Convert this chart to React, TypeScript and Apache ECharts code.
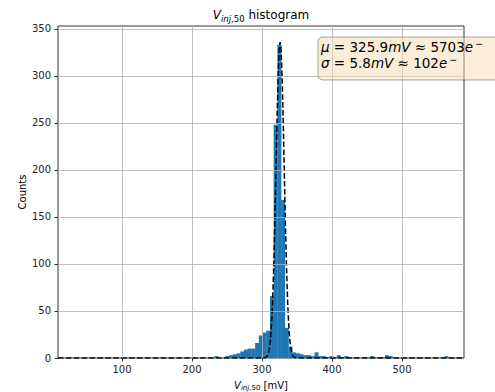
import React, { useEffect, useRef } from "react";
import * as echarts from "echarts";

// Histogram bins
const BIN_START = 35.8;
const BIN_WIDTH = 5.3;
const COUNTS = [
  0, 0, 0, 0, 0, 0, 0, 0, 0, 0,
  0, 0, 0, 0, 0, 0, 0, 0, 0, 0,
  0, 0, 0, 0, 0, 0, 0, 0, 0, 0,
  0, 0, 0, 0, 0, 0, 0, 2, 0, 0,
  2, 3, 4, 5, 7, 9, 10, 10, 16, 24,
  27, 29, 66, 248, 333, 168, 32, 12, 6, 5,
  4, 3, 3, 2, 6, 2, 2, 1, 2, 1,
  3, 1, 2, 1, 0, 1, 0, 1, 0, 2,
  0, 1, 1, 3, 2, 0, 0, 0, 0, 0,
  0, 0, 0, 0, 0, 0, 0, 0, 0, 2,
];

// Gaussian fit curve points
const FIT_X = [
  8.6, 300.9, 303.9, 305.9, 307.9, 308.9, 309.9, 310.9, 311.9, 312.9, 313.9,
  314.9, 315.9, 316.9, 317.9, 318.9, 319.9, 320.9, 321.9, 322.9, 323.9, 324.9,
  325.9, 326.9, 327.9, 328.9, 329.9, 330.9, 331.9, 332.9, 333.9, 334.9, 335.9,
  336.9, 337.9, 338.9, 339.9, 340.9, 341.9, 342.9, 343.9, 345.9, 347.9, 350.9,
  588.6,
];
const FIT_Y = [
  0, 0.03, 0.25, 0.9, 2.7, 4.6, 7.5, 11.9, 18.2, 27.2, 39.5,
  55.6, 76.0, 100.8, 129.8, 162.2, 196.8, 231.7, 264.9, 293.9, 316.6, 331.1,
  336, 331.1, 316.6, 293.9, 264.9, 231.7, 196.8, 162.2, 129.8, 100.8, 76.0,
  55.6, 39.5, 27.2, 18.2, 11.9, 7.5, 4.6, 2.7, 0.9, 0.25, 0.03,
  0,
];

const X_TICKS = [100, 200, 300, 400, 500];
const Y_TICKS = [0, 50, 100, 150, 200, 250, 300, 350];
const X_MIN = 8.6;
const X_MAX = 588.6;
const Y_MAX = 353;

const FONT = "DejaVu Sans";

export default function App() {
  const ref = useRef<HTMLDivElement>(null);

  useEffect(() => {
    if (!ref.current) return;
    const chart = echarts.init(ref.current, undefined, { renderer: "svg" });

    const barData = COUNTS.map((c, k) => [
      BIN_START + k * BIN_WIDTH,
      BIN_START + (k + 1) * BIN_WIDTH,
      c,
    ]).filter((d) => d[2] > 0);

    const fitData = FIT_X.map((x, i) => [x, FIT_Y[i]]);

    const gridLines = [
      ...X_TICKS.map((v) => ({ xAxis: v })),
      ...Y_TICKS.filter((v) => v > 0).map((v) => ({ yAxis: v })),
    ];

    const main = { fontFamily: FONT, fontSize: 13.5, lineHeight: 16, color: "#000" };
    const mainI = { ...main, fontStyle: "italic" };
    const sup = {
      fontFamily: FONT,
      fontSize: 9.5,
      lineHeight: 10,
      color: "#000",
      padding: [0, 0, 7, 2],
    };

    const option: any = {
      animation: false,
      grid: {
        left: 58,
        top: 26,
        right: 31,
        bottom: 34,
        show: true,
        borderColor: "#000",
        borderWidth: 0.8,
        backgroundColor: "transparent",
        outerBoundsMode: "none",
      },
      xAxis: {
        type: "value",
        min: X_MIN,
        max: X_MAX,
        axisLine: { show: false },
        splitLine: { show: false },
        axisTick: {
          show: true,
          inside: false,
          length: 3.5,
          customValues: X_TICKS,
          lineStyle: { color: "#000", width: 0.8 },
        },
        axisLabel: {
          customValues: X_TICKS,
          fontFamily: FONT,
          fontSize: 10,
          color: "#222",
          margin: 6,
        },
      },
      yAxis: {
        type: "value",
        min: 0,
        max: Y_MAX,
        axisLine: { show: false },
        splitLine: { show: false },
        axisTick: {
          show: true,
          inside: false,
          length: 3.5,
          customValues: Y_TICKS,
          lineStyle: { color: "#000", width: 0.8 },
        },
        axisLabel: {
          customValues: Y_TICKS,
          fontFamily: FONT,
          fontSize: 10,
          color: "#222",
          margin: 7,
        },
      },
      series: [
        {
          type: "custom",
          z: 1,
          encode: { x: [0, 1], y: 2 },
          data: barData,
          renderItem: (params: any, api: any) => {
            const p0 = api.coord([api.value(0), api.value(2)]);
            const p1 = api.coord([api.value(1), 0]);
            return {
              type: "rect",
              shape: {
                x: p0[0],
                y: p0[1],
                width: p1[0] - p0[0] + 0.3,
                height: p1[1] - p0[1],
              },
              style: { fill: "#1f77b4" },
            };
          },
        },
        {
          type: "line",
          z: 2,
          data: [],
          silent: true,
          markLine: {
            silent: true,
            symbol: ["none", "none"],
            label: { show: false },
            lineStyle: { color: "#b0b0b0", width: 0.8, type: "solid" },
            data: gridLines,
          },
        },
        {
          type: "line",
          z: 3,
          data: fitData,
          showSymbol: false,
          symbol: "none",
          silent: true,
          lineStyle: { color: "#000", width: 1.5, type: [5.5, 2.4] },
        },
      ],
      graphic: [
        {
          type: "text",
          x: 261,
          y: 15,
          z: 100,
          style: {
            text: "{v|V}{si|inj}{sn|,50}{t| histogram}",
            align: "center",
            verticalAlign: "middle",
            rich: {
              v: { fontFamily: FONT, fontSize: 12, lineHeight: 14, fontStyle: "italic", color: "#000" },
              t: { fontFamily: FONT, fontSize: 12, lineHeight: 14, color: "#000" },
              si: { fontFamily: FONT, fontSize: 8.5, lineHeight: 9, fontStyle: "italic", color: "#000", padding: [7, 0, 0, 0] },
              sn: { fontFamily: FONT, fontSize: 8.5, lineHeight: 9, color: "#000", padding: [7, 0, 0, 0] },
            },
          },
        },
        {
          type: "text",
          x: 261,
          y: 385,
          z: 100,
          style: {
            text: "{v|V}{si|inj}{sn|,50}{t| [mV]}",
            align: "center",
            verticalAlign: "middle",
            rich: {
              v: { fontFamily: FONT, fontSize: 10, lineHeight: 12, fontStyle: "italic", color: "#000" },
              t: { fontFamily: FONT, fontSize: 10, lineHeight: 12, color: "#000" },
              si: { fontFamily: FONT, fontSize: 7, lineHeight: 7, fontStyle: "italic", color: "#000", padding: [6, 0, 0, 0] },
              sn: { fontFamily: FONT, fontSize: 7, lineHeight: 7, color: "#000", padding: [6, 0, 0, 0] },
            },
          },
        },
        {
          type: "text",
          x: 22,
          y: 192,
          rotation: Math.PI / 2,
          z: 100,
          style: {
            text: "Counts",
            fontFamily: FONT,
            fontSize: 10,
            fill: "#000",
            align: "center",
            verticalAlign: "middle",
          },
        },
        {
          type: "rect",
          z: 100,
          shape: { x: 318, y: 37, width: 200, height: 43, r: 5 },
          style: {
            fill: "rgba(245,222,179,0.5)",
            stroke: "rgba(0,0,0,0.35)",
            lineWidth: 1,
          },
        },
        {
          type: "text",
          x: 321,
          y: 38.5,
          z: 101,
          style: {
            text: "{i|μ}{n| = 325.9}{i|mV}{n| ≈ 5703}{i|e}{s|−}",
            align: "left",
            verticalAlign: "top",
            rich: { n: main, i: mainI, s: sup },
          },
        },
        {
          type: "text",
          x: 321,
          y: 55,
          z: 101,
          style: {
            text: "{i|σ}{n| = 5.8}{i|mV}{n| ≈ 102}{i|e}{s|−}",
            align: "left",
            verticalAlign: "top",
            rich: { n: main, i: mainI, s: sup },
          },
        },
      ],
    };

    chart.setOption(option);
    return () => chart.dispose();
  }, []);

  return (
    <div
      ref={ref}
      style={{ position: "absolute", left: 0, top: 0, width: 495, height: 392 }}
    />
  );
}
